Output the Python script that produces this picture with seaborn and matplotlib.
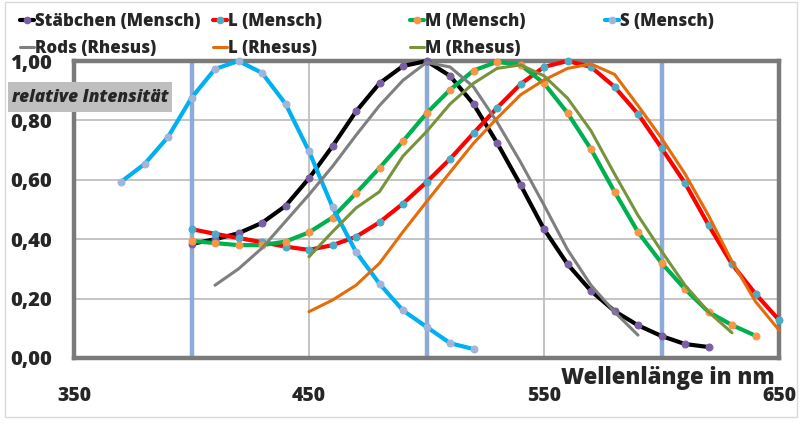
import matplotlib
matplotlib.use('Agg')
import matplotlib.pyplot as plt
import seaborn as sns
import numpy as np
from matplotlib.lines import Line2D
from matplotlib.patches import Rectangle

# ---------------- data ----------------
wl_rod_h = [400, 410, 420, 430, 440, 450, 460, 470, 480, 490, 500, 510, 520, 530, 540,
            550, 560, 570, 580, 590, 600, 610, 620]
rod_h = [0.384, 0.40, 0.42, 0.455, 0.512, 0.605, 0.713, 0.83, 0.925, 0.983, 1.0, 0.95,
         0.855, 0.725, 0.583, 0.434, 0.316, 0.226, 0.158, 0.11, 0.074, 0.047, 0.037]

wl_l_h = [400, 410, 420, 430, 440, 450, 460, 470, 480, 490, 500, 510, 520, 530, 540,
          550, 560, 570, 580, 590, 600, 610, 620, 630, 640, 650]
l_h = [0.434, 0.418, 0.404, 0.39, 0.375, 0.364, 0.38, 0.408, 0.457, 0.52, 0.592, 0.67,
       0.757, 0.842, 0.922, 0.98, 1.0, 0.98, 0.913, 0.822, 0.707, 0.589, 0.448, 0.316,
       0.216, 0.128]

wl_m_h = [400, 410, 420, 430, 440, 450, 460, 470, 480, 490, 500, 510, 520, 530, 540,
          550, 560, 570, 580, 590, 600, 610, 620, 630, 640]
m_h = [0.394, 0.387, 0.38, 0.38, 0.392, 0.423, 0.473, 0.555, 0.64, 0.73, 0.824, 0.903,
       0.968, 0.997, 0.987, 0.925, 0.825, 0.703, 0.56, 0.424, 0.32, 0.232, 0.155, 0.111,
       0.075]

wl_s_h = [370, 380, 390, 400, 410, 420, 430, 440, 450, 460, 470, 480, 490, 500, 510, 520]
s_h = [0.593, 0.653, 0.744, 0.876, 0.973, 1.0, 0.96, 0.856, 0.696, 0.508, 0.357, 0.25,
       0.16, 0.105, 0.05, 0.03]

wl_rod_r = [410, 420, 430, 440, 450, 460, 470, 480, 490, 500, 510, 520, 530, 540, 550,
            560, 570, 580, 590]
rod_r = [0.245, 0.30, 0.37, 0.46, 0.55, 0.645, 0.75, 0.85, 0.935, 0.995, 0.98, 0.913,
         0.795, 0.66, 0.515, 0.365, 0.245, 0.155, 0.077]

wl_l_r = [450, 460, 470, 480, 490, 500, 510, 520, 530, 540, 550, 560, 570, 580, 590,
          600, 610, 620, 630, 640, 650]
l_r = [0.156, 0.195, 0.245, 0.319, 0.425, 0.526, 0.625, 0.723, 0.807, 0.886, 0.936,
       0.975, 0.99, 0.955, 0.85, 0.74, 0.62, 0.48, 0.325, 0.19, 0.094]

wl_m_r = [450, 460, 470, 480, 490, 500, 510, 520, 530, 540, 550, 560, 570, 580, 590,
          600, 610, 620, 630]
m_r = [0.341, 0.425, 0.505, 0.56, 0.68, 0.762, 0.855, 0.925, 0.975, 0.987, 0.95, 0.875,
       0.765, 0.62, 0.48, 0.36, 0.245, 0.155, 0.085]

x_ticks = [350, 450, 550, 650]
y_ticks = [0.0, 0.2, 0.4, 0.6, 0.8, 1.0]
marker_lines = [400, 500, 600]

# ---------------- style ----------------
sns.set_style('white')
FAM = ['Open Sans', 'DejaVu Sans']
plt.rcParams['font.family'] = FAM
WT = 800
plt.rcParams['font.weight'] = WT

W, H = 800, 428
fig = plt.figure(figsize=(W / 100, H / 100), dpi=100)
ax = fig.add_axes([74 / W, 70 / H, 705 / W, 297 / H])

grid_c = '#bfbfbf'
for yv in [0.2, 0.4, 0.6, 0.8]:
    ax.axhline(yv, color=grid_c, lw=1.3, zorder=1)
for xv in [450, 550]:
    ax.axvline(xv, color=grid_c, lw=1.3, zorder=1)
for xv in marker_lines:
    ax.axvline(xv, color='#8eaad6', lw=3.2, zorder=1.5)

series = [
    # label, x, y, line color, marker color, lw, marker
    ('Stäbchen (Mensch)', wl_rod_h, rod_h, '#000000', '#7b5fa5', 3.0, True),
    ('L (Mensch)', wl_l_h, l_h, '#ff0000', '#4bacc6', 3.0, True),
    ('M (Mensch)', wl_m_h, m_h, '#00b050', '#f79646', 3.0, True),
    ('S (Mensch)', wl_s_h, s_h, '#00b0f0', '#a3b4db', 3.0, True),
    ('Rods (Rhesus)', wl_rod_r, rod_r, '#7f7f7f', None, 2.2, False),
    ('L (Rhesus)', wl_l_r, l_r, '#e46c0a', None, 2.2, False),
    ('M (Rhesus)', wl_m_r, m_r, '#77933c', None, 2.2, False),
]

handles = {}
draw_order = [4, 5, 6, 3, 0, 2, 1]
for i in draw_order:
    lab, xs, ys, lc, mc, lw, mk = series[i]
    kw = dict(color=lc, lw=lw, solid_joinstyle='round', solid_capstyle='round')
    if mk:
        kw.update(marker='o', markersize=5, markerfacecolor=mc, markeredgecolor=mc)
    sns.lineplot(x=xs, y=ys, ax=ax, legend=False, zorder=3 + i * 0.1, **kw)
    ax.get_lines()[-1].set_clip_on(False)
    hk = dict(color=lc, lw=lw)
    if mk:
        hk.update(marker='o', markersize=4.5, markerfacecolor=mc, markeredgecolor=mc)
    handles[lab] = Line2D([0], [0], **hk)

ax.set_xlim(350, 650)
ax.set_ylim(0, 1)
ax.set_xticks(x_ticks)
ax.set_xticklabels([str(v) for v in x_ticks], fontsize=14, fontweight=WT)
ax.set_yticks(y_ticks)
ax.set_yticklabels([f'{v:.2f}'.replace('.', ',') for v in y_ticks], fontsize=14.5,
                   fontweight=WT)
ax.tick_params(axis='x', direction='out', length=5, width=1.2, color=grid_c, pad=15)
ax.tick_params(axis='y', direction='out', length=6, width=1.2, color=grid_c, pad=10)
for sp in ax.spines.values():
    sp.set_visible(True)
    sp.set_color('#7a7a7a')
    sp.set_linewidth(3.2)
    sp.set_zorder(2.5)
ax.set_xlabel('')
ax.set_ylabel('')

# axis titles
ax.text(0.994, -0.066, 'Wellenlänge in nm', transform=ax.transAxes, ha='right',
        va='center', fontsize=16, fontweight=WT)
fig.add_artist(Rectangle((8 / W, 1 - 112 / H), 164 / W, 30 / H,
                         transform=fig.transFigure, fc='#bfbfbf', ec='none', zorder=5))
fig.text(90 / W, 1 - 97 / H, 'relative Intensität', ha='center', va='center',
         fontsize=12.4, fontweight=WT, style='italic', zorder=6)

# legend: four columns placed like the original
cols = [
    (20, ['Stäbchen (Mensch)', 'Rods (Rhesus)']),
    (213, ['L (Mensch)', 'L (Rhesus)']),
    (410, ['M (Mensch)', 'M (Rhesus)']),
    (605, ['S (Mensch)']),
]
for xpx, labs in cols:
    fig.legend([handles[l] for l in labs], labs, loc='upper left',
               bbox_to_anchor=(xpx / W, 1 - 13 / H), frameon=False,
               borderpad=0, borderaxespad=0, handlelength=0.8,
               handletextpad=0.08, labelspacing=0.6,
               prop=dict(family=FAM, weight=WT, size=12.2))

# outer frame
fig.add_artist(Rectangle((5 / W, 11 / H), 792 / W, 415 / H, transform=fig.transFigure,
                         fill=False, ec='#d9d9d9', lw=1))

fig.savefig('out.png', dpi=100)
